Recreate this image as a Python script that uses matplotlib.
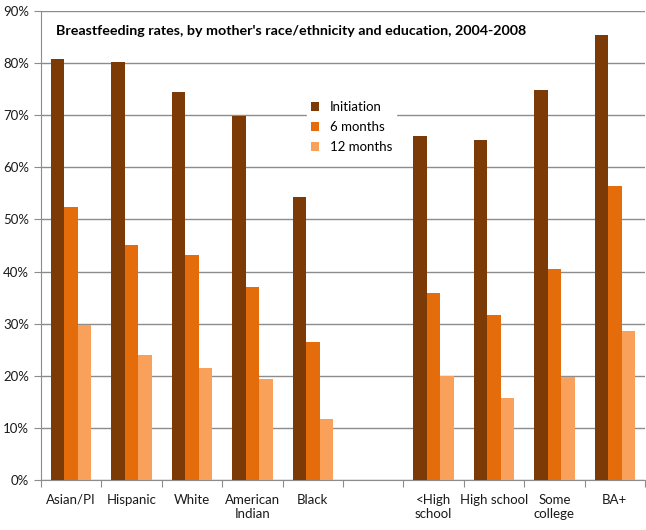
import numpy as np
import matplotlib.pyplot as plt
from matplotlib.ticker import FuncFormatter

# categories (an empty slot separates race/ethnicity from education)
categories = ['Asian/PI', 'Hispanic', 'White', 'American\nIndian', 'Black', '',
              '<High\nschool', 'High school', 'Some\ncollege', 'BA+']
initiation = [80.8, 80.3, 74.4, 69.8, 54.4, np.nan, 66.1, 65.2, 74.8, 85.4]
six_months = [52.4, 45.1, 43.2, 37.1, 26.5, np.nan, 35.9, 31.7, 40.5, 56.5]
twelve_months = [29.7, 24.0, 21.4, 19.4, 11.7, np.nan, 20.0, 15.7, 19.8, 28.6]

plt.rcParams['font.family'] = ['Lato', 'DejaVu Sans']

fig = plt.figure(figsize=(6.46, 5.30), dpi=100)
ax = fig.add_axes([41 / 646, 50 / 530, 604 / 646, 469 / 530])

x = np.arange(len(categories))
w = 0.222
ax.bar(x - w, initiation, w, color='#7B3A06', label='Initiation', zorder=3)
ax.bar(x, six_months, w, color='#E46C0A', label='6 months', zorder=3)
ax.bar(x + w, twelve_months, w, color='#F9A05A', label='12 months', zorder=3)

ax.set_xlim(-0.5, len(categories) - 0.5)
ax.set_ylim(0, 90)
ax.set_yticks(np.arange(0, 91, 10))
ax.yaxis.set_major_formatter(FuncFormatter(lambda v, p: f'{v:.0f}%'))
ax.yaxis.grid(True, color='#8c8c8c', lw=1.0, zorder=0)

# category boundary ticks on x axis, labels centred
ax.set_xticks(np.arange(-0.5, len(categories), 1.0))
ax.set_xticklabels([])
ax.set_xticks(x, minor=True)
ax.set_xticklabels(categories, minor=True, fontsize=9.5, color='#1a1a1a')
ax.tick_params(axis='x', which='major', length=5, color='#8c8c8c', direction='out')
ax.tick_params(axis='x', which='minor', length=0, pad=10)
ax.tick_params(axis='y', length=5, color='#8c8c8c', labelsize=9.5, labelcolor='#1a1a1a')

for s in ['top', 'right']:
    ax.spines[s].set_visible(False)
for s in ['left', 'bottom']:
    ax.spines[s].set_color('#8c8c8c')

ax.text(0.025, 0.97, "Breastfeeding rates, by mother's race/ethnicity and education, 2004-2008",
        transform=ax.transAxes, fontsize=10.3, fontweight='bold', ha='left', va='top',
        color='black')

leg = ax.legend(loc='upper left', bbox_to_anchor=(0.43, 0.83), frameon=True,
                fancybox=False, edgecolor='white', framealpha=1.0, fontsize=9.5,
                handlelength=0.6, handleheight=0.6, labelspacing=0.6, borderpad=0.3)
leg.set_zorder(5)

fig.savefig('out.png', dpi=100)
